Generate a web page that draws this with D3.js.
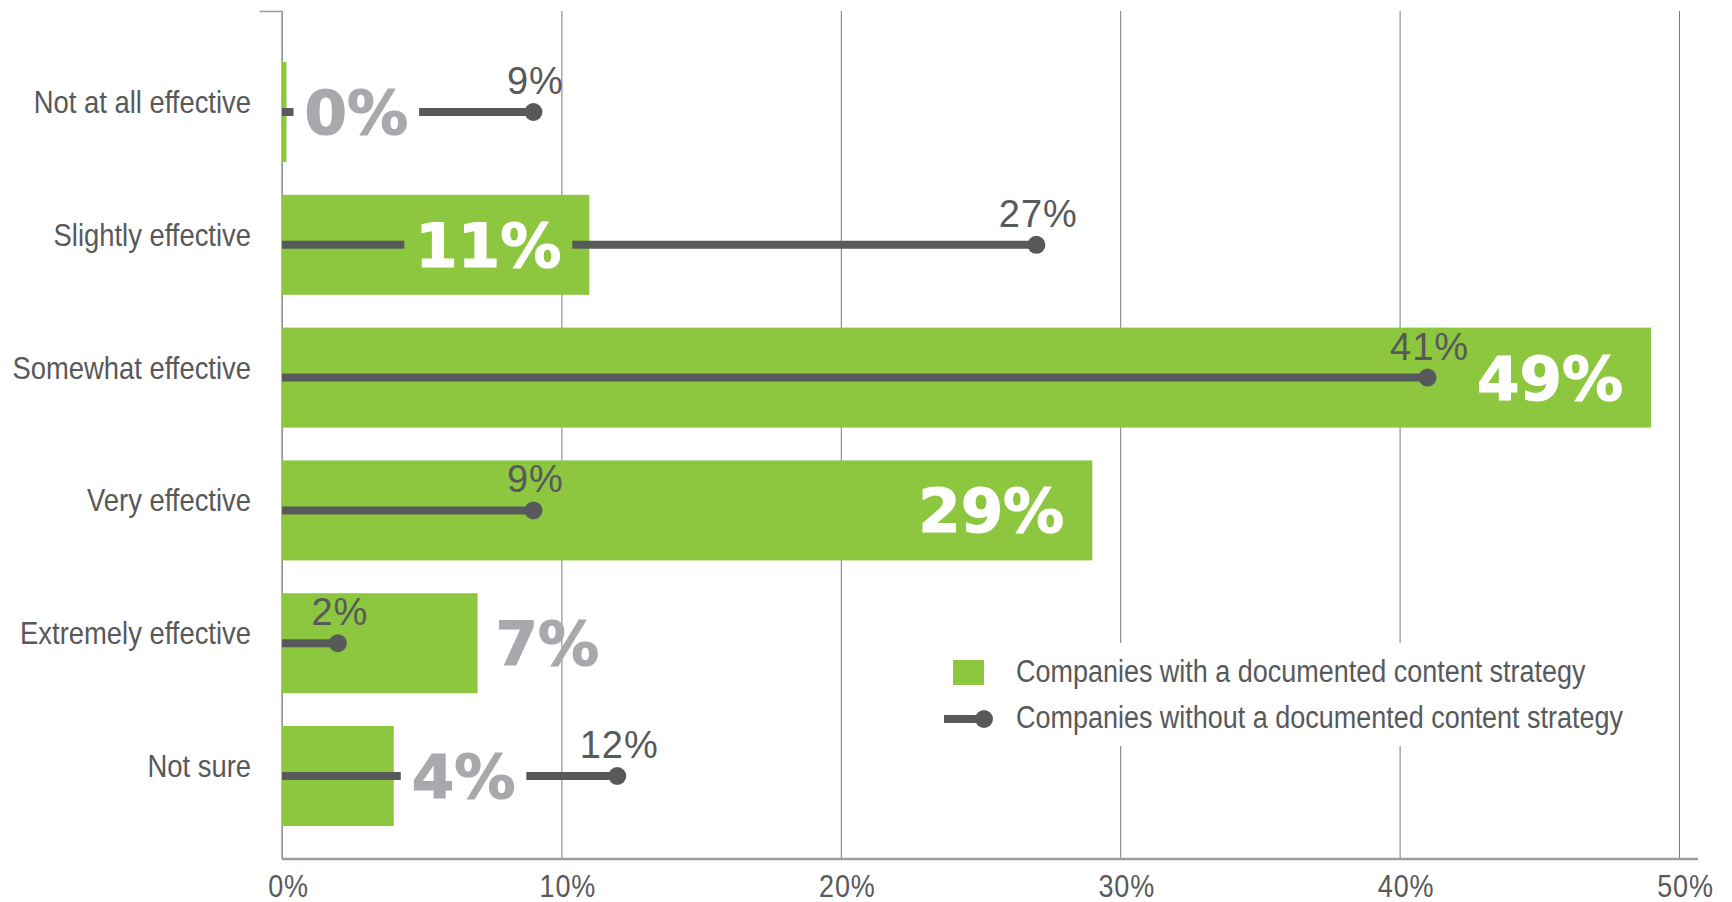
<!DOCTYPE html>
<html>
<head>
<meta charset="utf-8">
<script src="https://cdn.jsdelivr.net/npm/d3@7"></script>
<style>
  html, body { margin: 0; padding: 0; background: #fff; }
  svg { display: block; }
</style>
</head>
<body>
<svg id="chart" width="1732" height="902"></svg>
<script>
// Effectiveness ratings, in percent of respondents
const categories = [
  "Not at all effective",
  "Slightly effective",
  "Somewhat effective",
  "Very effective",
  "Extremely effective",
  "Not sure"
];
const withStrategy = [0, 11, 49, 29, 7, 4];
const withoutStrategy = [9, 27, 41, 9, 2, 12];
const xTicks = [0, 10, 20, 30, 40, 50];
const seriesNames = [
  "Companies with a documented content strategy",
  "Companies without a documented content strategy"
];

const GREEN = "#8dc63f", DARK = "#58595b", GREY = "#a7a9ac", GRID = "#7a7a7a", AXIS = "#9d9d9d";
const SANS = "'Liberation Sans',Arial,sans-serif";
const BOLD = "'DejaVu Sans',sans-serif";
const SQUEEZE = 0.87;   // horizontal squeeze for the condensed label face

const svg = d3.select("#chart");
const plotTop = 11, plotBottom = 859;

const x = d3.scaleLinear().domain([0, 50]).range([282, 1679]);
const y = d3.scaleBand().domain(categories)
  .range([45.6, 842.4]).paddingInner(0.247).paddingOuter(0.1235);
const bw = y.bandwidth();

// condensed text: squeeze horizontally about the anchor point
function condensed(sel, size, ax) {
  sel.attr("font-family", SANS).attr("font-size", size).attr("fill", DARK)
     .attr("x", ax / SQUEEZE)
     .attr("transform", `scale(${SQUEEZE},1)`);
}

// Vertical gridlines + percentage tick labels
const gx = svg.append("g")
  .attr("transform", `translate(0,${plotBottom})`)
  .call(d3.axisBottom(x).tickValues(xTicks).tickSize(-(plotBottom - plotTop)).tickFormat(d => d + "%"));
gx.select(".domain").remove();
gx.selectAll(".tick line").attr("stroke", GRID).attr("stroke-width", 1);
gx.selectAll(".tick text")
  .attr("y", 38).attr("dy", 0)
  .call(condensed, 31, 6)
  .attr("letter-spacing", 1);

// Baseline and left axis
svg.append("line")
  .attr("x1", x(0)).attr("x2", 1698).attr("y1", plotBottom).attr("y2", plotBottom)
  .attr("stroke", AXIS).attr("stroke-width", 2.5);
svg.append("path")
  .attr("d", `M${x(0) - 22.5},${plotTop + 0.5}H${x(0)}V${plotBottom}`)
  .attr("fill", "none").attr("stroke", AXIS).attr("stroke-width", 1.5);

// Category labels
const gy = svg.append("g")
  .attr("transform", `translate(${x(0)},0)`)
  .call(d3.axisLeft(y).tickSize(0).tickPadding(31));
gy.select(".domain").remove();
gy.selectAll(".tick text")
  .attr("dy", 1)
  .call(condensed, 31.5, -31);

// Legend backdrop (interrupts the gridlines)
svg.append("rect")
  .attr("x", 935).attr("y", 643).attr("width", 725).attr("height", 103)
  .attr("fill", "#fff");

const rows = categories.map((c, i) => ({ c, w: withStrategy[i], wo: withoutStrategy[i] }));

// Green bars
svg.append("g").selectAll("rect").data(rows).join("rect")
  .attr("x", x(0))
  .attr("y", d => y(d.c))
  .attr("width", d => Math.max(x(d.w) - x(0), 4.5))
  .attr("height", bw)
  .attr("fill", GREEN);

const marks = svg.append("g");
rows.forEach(d => {
  const cy = y(d.c) + bw / 2;
  const barEnd = x(0) + Math.max(x(d.w) - x(0), 4.5);
  const inside = d.w >= 10;
  const col = inside ? "#fff" : GREY;

  // Big value label for the bar
  const lab = marks.append("text")
    .attr("x", inside ? barEnd - 28 : barEnd + 18)
    .attr("y", cy + 22)
    .attr("text-anchor", inside ? "end" : "start")
    .attr("font-family", BOLD).attr("font-weight", "bold").attr("font-size", 61)
    .attr("fill", col).attr("stroke", col).attr("stroke-width", 1.2)
    .text(d.w + "%");
  const bb = lab.node().getBBox();

  // Dumbbell line, broken around the bar label where they cross
  const x0 = x(0), x1 = x(d.wo), pad = 11;
  let segs = [[x0, x1]];
  if (bb.x < x1 && bb.x + bb.width > x0) {
    segs = [[x0, bb.x - pad], [bb.x + bb.width + pad, x1]].filter(s => s[1] > s[0]);
  }
  segs.forEach(s => {
    marks.append("line")
      .attr("x1", s[0]).attr("x2", s[1]).attr("y1", cy).attr("y2", cy)
      .attr("stroke", DARK).attr("stroke-width", 8);
  });
  marks.append("circle").attr("cx", x1).attr("cy", cy).attr("r", 9).attr("fill", DARK);

  // Small value label above the dot
  marks.append("text")
    .attr("x", x1 + 2).attr("y", cy - 18)
    .attr("text-anchor", "middle")
    .attr("font-family", SANS).attr("font-size", 38).attr("letter-spacing", 1)
    .attr("fill", DARK)
    .text(d.wo + "%");
});

// Legend
const lg = svg.append("g");
lg.append("rect").attr("x", 953).attr("y", 660).attr("width", 31).attr("height", 25).attr("fill", GREEN);
lg.append("text").attr("y", 682).call(condensed, 31, 1016).text(seriesNames[0]);
lg.append("line").attr("x1", 944).attr("x2", 984).attr("y1", 719).attr("y2", 719)
  .attr("stroke", DARK).attr("stroke-width", 8);
lg.append("circle").attr("cx", 984).attr("cy", 719).attr("r", 9).attr("fill", DARK);
lg.append("text").attr("y", 728).call(condensed, 31, 1016).text(seriesNames[1]);
</script>
</body>
</html>
